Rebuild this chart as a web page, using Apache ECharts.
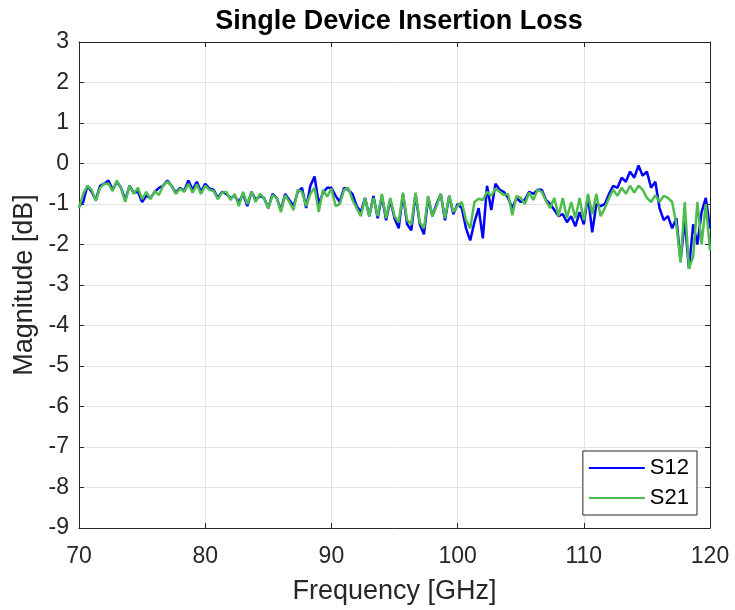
<!DOCTYPE html>
<html>
<head>
<meta charset="utf-8">
<title>Single Device Insertion Loss</title>
<script src="https://cdn.jsdelivr.net/npm/echarts@6/dist/echarts.min.js"></script>
<style>
	html,body{margin:0;padding:0;background:#fff;}
	#chart{width:735px;height:610px;}
</style>
</head>
<body>
<div id="chart"></div>
<script>
/*data*/
var fStart=70, fStep=1/3;   // GHz, sample grid of the traces below
var xTicks=[70,80,90,100,110,120];
var yTicks=[3,2,1,0,-1,-2,-3,-4,-5,-6,-7,-8,-9];
var seriesNames=['S12','S21'];
// S12, 70 .. 120 GHz
var s12=[
	-1.05,-0.95,-0.55,-0.7,-0.9,-0.55,-0.5,-0.42,-0.65,-0.45,-0.6,-0.9,-0.55,-0.72,-0.7,-0.95,-0.8,-0.85,-0.7,-0.6,-0.55,-0.42,-0.55,-0.72,-0.6,-0.68,
	-0.42,-0.65,-0.45,-0.7,-0.5,-0.62,-0.65,-0.85,-0.7,-0.75,-0.85,-0.8,-0.95,-0.75,-1.05,-0.7,-0.9,-0.8,-0.85,-1.1,-0.75,-0.85,-1.15,-0.75,-0.9,
	-1.05,-0.7,-0.6,-1.1,-0.55,-0.32,-1.0,-0.72,-0.6,-0.6,-0.8,-0.95,-0.6,-0.65,-0.75,-1.05,-1.2,-0.85,-1.3,-0.8,-1.35,-0.8,-1.4,-0.9,-1.35,
	-1.6,-0.75,-1.5,-1.65,-0.75,-1.5,-1.75,-0.85,-1.3,-1.0,-0.75,-1.4,-0.8,-1.25,-1.0,-1.1,-1.6,-1.9,-1.45,-1.1,-1.85,-0.55,-1.15,-0.5,
	-0.65,-0.7,-0.85,-1.1,-0.85,-0.95,-0.9,-0.7,-0.75,-0.65,-0.65,-0.9,-1.0,-1.15,-1.3,-1.25,-1.45,-1.3,-1.55,-1.2,-1.5,-0.8,-1.7,-1.0,-1.05,
	-1.0,-0.75,-0.55,-0.6,-0.35,-0.45,-0.2,-0.35,-0.05,-0.3,-0.2,-0.6,-0.45,-1.1,-1.4,-1.3,-1.6,-1.35,-2.4,-1.4,-2.6,-1.5,-2.0,-1.2,-0.85,-1.6
];
// S21, 70 .. 120 GHz
var s21=[
	-1.1,-0.75,-0.55,-0.65,-0.92,-0.6,-0.5,-0.5,-0.68,-0.42,-0.62,-0.95,-0.55,-0.75,-0.6,-0.88,-0.7,-0.88,-0.68,-0.78,-0.55,-0.45,-0.55,-0.75,-0.62,-0.7,
	-0.5,-0.72,-0.52,-0.75,-0.55,-0.65,-0.68,-0.88,-0.72,-0.7,-0.9,-0.75,-1.05,-0.7,-1.0,-0.7,-0.95,-0.75,-0.85,-1.1,-0.78,-0.85,-1.2,-0.78,-0.95,
	-1.15,-0.65,-0.7,-1.05,-0.75,-0.6,-1.2,-0.65,-0.82,-0.62,-1.05,-1.0,-0.65,-0.6,-0.9,-1.1,-1.3,-0.85,-1.3,-0.85,-1.3,-0.75,-1.35,-0.85,-1.3,
	-1.45,-0.72,-1.4,-1.5,-0.72,-1.45,-1.6,-0.8,-1.3,-1.05,-0.75,-1.35,-0.8,-1.2,-1.05,-0.95,-1.4,-1.6,-0.95,-0.87,-0.9,-0.7,-0.8,-0.62,
	-0.7,-0.78,-0.75,-1.28,-0.8,-0.85,-1.0,-0.72,-0.9,-0.65,-0.7,-0.92,-1.1,-0.85,-1.3,-0.85,-1.35,-0.95,-1.35,-0.85,-1.4,-0.75,-1.25,-0.75,-1.3,
	-1.1,-0.85,-0.65,-0.8,-0.6,-0.75,-0.55,-0.72,-0.55,-0.65,-0.85,-0.95,-0.78,-0.95,-0.8,-0.85,-0.95,-1.5,-2.45,-0.95,-2.6,-2.3,-0.95,-2.0,-1.0,-2.15
];
/*data end*/

var pairs=function(vals){
	var out=[];
	for (var i = 0; i < vals.length; i++) {
		out.push([+(fStart + i*fStep).toFixed(3), vals[i]]);
	}
	return out;
}

var font='"Liberation Sans", Arial, Helvetica, sans-serif';
var axisCol='#262626';
var gridCol='#e3e3e3';

var baseX={
	type:'value',
	min:xTicks[0],
	max:xTicks[xTicks.length-1],
	interval:10,
	axisLine:{show:true,onZero:false,lineStyle:{color:axisCol,width:1}},
	axisTick:{show:true,inside:true,length:5,lineStyle:{color:axisCol}},
	splitLine:{show:false}
};
var baseY={
	type:'value',
	min:yTicks[yTicks.length-1],
	max:yTicks[0],
	interval:1,
	axisLine:{show:true,onZero:false,lineStyle:{color:axisCol,width:1}},
	axisTick:{show:true,inside:true,length:5,lineStyle:{color:axisCol}},
	splitLine:{show:false}
};

var myChart=echarts.init(document.getElementById('chart'),null,{renderer:'canvas'});
var option={
	animation:false,
	backgroundColor:'#fff',
	title:{
		text:'Single Device Insertion Loss',
		left:394,
		top:3,
		textAlign:'center',
		textStyle:{fontFamily:font,fontSize:27,fontWeight:'bold',color:'#000'}
	},
	grid:{left:79,right:25,top:42,bottom:80,show:false},
	legend:{
		data:[
			{name:seriesNames[0],icon:'rect'},
			{name:seriesNames[1],icon:'rect'}
		],
		orient:'vertical',
		right:38,
		bottom:95,
		itemWidth:56,
		itemHeight:2,
		itemGap:8,
		itemTextGap:7,
		padding:[6,8,6,6],
		borderColor:axisCol,
		borderWidth:1,
		backgroundColor:'#fff',
		textStyle:{fontFamily:font,fontSize:22,color:'#000',lineHeight:21}
	},
	xAxis:[
		Object.assign({},baseX,{
			position:'bottom',
			name:'Frequency [GHz]',
			nameLocation:'middle',
			nameGap:50,
			nameTextStyle:{fontFamily:font,fontSize:27,color:axisCol},
			axisLabel:{fontFamily:font,fontSize:23,color:axisCol,margin:17},
			splitLine:{show:true,lineStyle:{color:gridCol,width:1}}
		}),
		Object.assign({},baseX,{position:'top',axisLabel:{show:false}})
	],
	yAxis:[
		Object.assign({},baseY,{
			position:'left',
			name:'Magnitude [dB]',
			nameLocation:'middle',
			nameGap:36,
			nameTextStyle:{fontFamily:font,fontSize:27,color:axisCol},
			axisLabel:{fontFamily:font,fontSize:23,color:axisCol,margin:10},
			splitLine:{show:true,lineStyle:{color:gridCol,width:1}}
		}),
		Object.assign({},baseY,{position:'right',axisLabel:{show:false}})
	],
	series:[
		{
			name:'S12',
			type:'line',
			xAxisIndex:0,
			yAxisIndex:0,
			symbol:'none',
			color:'#0000ff',
			lineStyle:{width:2.5,color:'#0000ff'},
			data:pairs(s12)
		},
		{
			name:'S21',
			type:'line',
			xAxisIndex:0,
			yAxisIndex:0,
			symbol:'none',
			color:'#4dbe4d',
			lineStyle:{width:2.5,color:'#4dbe4d'},
			data:pairs(s21)
		}
	]
};
myChart.setOption(option);
</script>
</body>
</html>
